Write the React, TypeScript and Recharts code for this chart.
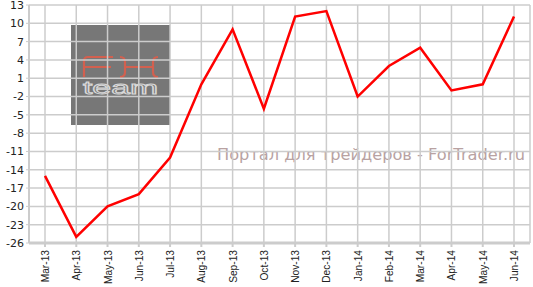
import React from 'react';
import { LineChart, Line, XAxis, YAxis, CartesianGrid } from 'recharts';

const categories = ['Mar-13','Apr-13','May-13','Jun-13','Jul-13','Aug-13','Sep-13','Oct-13','Nov-13','Dec-13','Jan-14','Feb-14','Mar-14','Apr-14','May-14','Jun-14'];
const values = [-15, -25, -20, -18, -12, 0, 9, -4, 11.1, 12, -2, 3, 6, -1, 0, 11.1];
const yTicks = [13, 10, 7, 4, 1, -2, -5, -8, -11, -14, -17, -20, -23, -26];
const watermarkText = 'Портал для трейдеров - ForTrader.ru';
const logoWord = 'team';

const data = categories.map((c, i) => ({ name: c, value: values[i] }));

const XTick = (props: any) => {
  const { x, y, payload } = props;
  return (
    <text
      x={0}
      y={0}
      transform={`translate(${x + 4},${y + 1}) rotate(-90)`}
      textAnchor="end"
      fontSize={10.2}
      fontFamily="Liberation Sans, Arial, sans-serif"
      fill="#222"
    >
      {payload.value}
    </text>
  );
};

export default function App() {
  return (
    <div style={{ position: 'absolute', left: 0, top: 0, width: 533, height: 287, background: '#fff' }}>
      <svg width={533} height={287} style={{ position: 'absolute', left: 0, top: 0 }}>
        <rect x={71} y={25} width={99} height={100} fill="#777777" />
        <g fill="none" stroke="#d2604f" strokeWidth={2.2}>
          <path d="M113,57 L88,57 Q84,57 84,61 L84,77 M84,67 L111,67" />
          <path d="M120,57 Q125,57 125,62 L125,72 Q125,77 120,77 M158,57 Q153,57 153,62 L153,72 Q153,77 158,77 M125,67 L153,67" />
        </g>
        <text x={83} y={94} fontSize={18} fontFamily="Liberation Sans, sans-serif" fill="none" stroke="#d8d8d8" strokeWidth={0.9} textLength={75} lengthAdjust="spacingAndGlyphs">{logoWord}</text>
        <text x={217} y={160} fontSize={16} fontFamily="DejaVu Sans, Verdana, sans-serif" fill="#b8a2a2" textLength={308} lengthAdjust="spacingAndGlyphs">{watermarkText}</text>
      </svg>
      <div style={{ position: 'absolute', left: 0, top: 0 }}>
        <LineChart width={533} height={287} data={data} margin={{ top: 5, right: 3, left: 0, bottom: 0 }}>
          <CartesianGrid stroke="#cccccc" strokeWidth={1.5} />
          <XAxis
            dataKey="name"
            padding={{ left: 16, right: 16 }}
            height={44}
            interval={0}
            tick={<XTick />}
            tickSize={4}
            axisLine={{ stroke: '#cccccc', strokeWidth: 3 }}
            tickLine={{ stroke: '#cccccc', strokeWidth: 2 }}
          />
          <YAxis
            width={29}
            domain={[-26, 13]}
            ticks={yTicks}
            interval={0}
            tickSize={3}
            tick={{ fontSize: 11, fill: '#222', fontFamily: 'DejaVu Sans, Verdana, sans-serif' }}
            axisLine={{ stroke: '#cccccc', strokeWidth: 2 }}
            tickLine={{ stroke: '#cccccc' }}
          />
          <Line
            type="linear"
            dataKey="value"
            stroke="#ff0000"
            strokeWidth={2.5}
            dot={false}
            isAnimationActive={false}
          />
        </LineChart>
      </div>
    </div>
  );
}
